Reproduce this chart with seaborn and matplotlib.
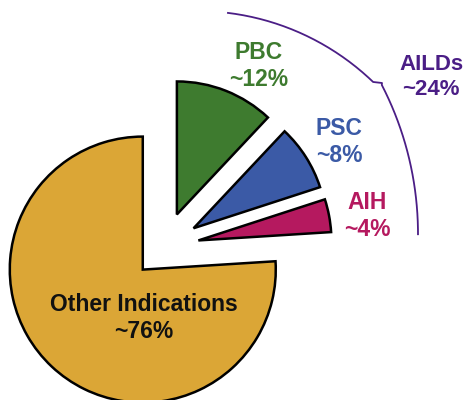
import numpy as np
import matplotlib
matplotlib.use("Agg")
import matplotlib.pyplot as plt
import seaborn as sns

# ---- data ----
categories = ["Other Indications", "AIH", "PSC", "PBC"]
values = [76, 4, 8, 12]
labels_pct = ["~76%", "~4%", "~8%", "~12%"]
colors = ["#DBA636", "#B5195F", "#3B5AA6", "#3E7B2F"]
text_colors = ["#111111", "#B5195F", "#3B5AA6", "#3E7B2F"]
group_label = "AILDs"
group_pct = "~24%"
group_color = "#4B1E86"

sns.set_theme(style="white")
plt.rcParams['font.family'] = ['Liberation Sans', 'DejaVu Sans']

fig = plt.figure(figsize=(4.65, 4.0), dpi=100)
ax = fig.add_axes([0, 0, 1, 1])

center = (164, 153)
radius = 133
explode = [31, 35, 35, 35]  # offsets in data units (axes use pixel-like units)
ax.pie(values, colors=colors, explode=explode, startangle=90, counterclock=True,
       center=center, radius=radius,
       wedgeprops=dict(edgecolor="black", linewidth=1.8))

ax.set_xlim(0, 465)
ax.set_ylim(0, 400)
ax.set_aspect("equal")
ax.axis("off")

# labels (pixel-like coordinates, y up)
label_pos = {
    "Other Indications": (144, 400 - 318),
    "AIH": (367, 400 - 216),
    "PSC": (339, 400 - 142),
    "PBC": (259, 400 - 66),
}
for cat, pct, tc in zip(categories, labels_pct, text_colors):
    x, y = label_pos[cat]
    ax.text(x, y, f"{cat}\n{pct}", ha="center", va="center", color=tc,
            fontsize=16.5, fontweight="bold", linespacing=1.2)

ax.text(431, 400 - 77, f"{group_label}\n{group_pct}", ha="center", va="center",
        color=group_color, fontsize=16, fontweight="bold", linespacing=1.2)

# brace arc around AILD slices
c1 = np.array([197, 135]); r1 = 254
t1 = np.radians(np.linspace(83.2, 46.1, 80))
up = np.column_stack([c1[0] + r1 * np.cos(t1), c1[1] + r1 * np.sin(t1)])
c2 = np.array([93, 166]); r2 = 325
t2 = np.radians(np.linspace(27.3, -0.2, 80))
lo = np.column_stack([c2[0] + r2 * np.cos(t2), c2[1] + r2 * np.sin(t2)])
pts = np.vstack([up, [[382, 400 - 83]], lo])
ax.plot(pts[:, 0], pts[:, 1], color=group_color, lw=1.3, solid_capstyle="butt")

fig.savefig("out.png", dpi=100, facecolor="white")
